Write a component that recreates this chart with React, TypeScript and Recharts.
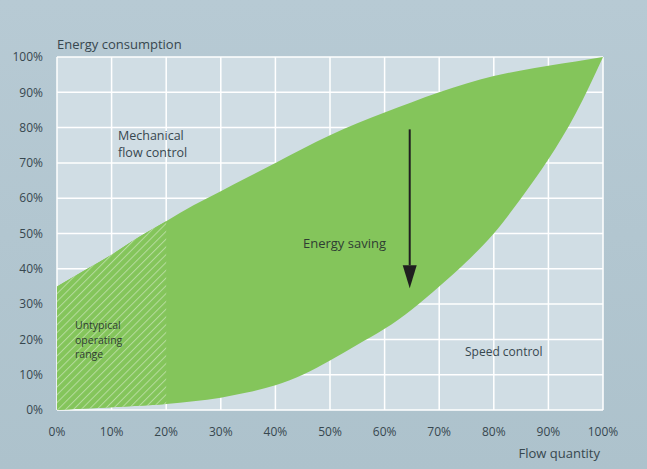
import React from "react";
import {
  ComposedChart,
  Area,
  XAxis,
  YAxis,
  CartesianGrid,
  ReferenceLine,
} from "recharts";

// flow quantity in %
const flow = [0, 5, 10, 15, 20, 25, 30, 35, 40, 45, 50, 55, 60, 65, 70, 75, 80, 85, 90, 95, 100];
// mechanical flow control (upper curve), energy in %
const mechanical = [35, 39.5, 44, 49, 53.5, 58, 62, 66, 70, 74, 77.8, 81.2, 84.3, 87.2, 90, 92.5, 94.6, 96.2, 97.5, 98.7, 100];
// speed control (lower curve), energy in %
const speed = [0, 0.4, 0.8, 1.2, 1.7, 2.5, 3.5, 5, 7, 10, 14, 18.5, 23, 28.5, 35, 42, 50, 60, 71, 84, 100];

const xTicks = [0, 10, 20, 30, 40, 50, 60, 70, 80, 90, 100];
const yTicks = [0, 10, 20, 30, 40, 50, 60, 70, 80, 90, 100];

const data = flow.map((f, i) => ({
  flow: f,
  saving: [speed[i], mechanical[i]],
  hatch: f <= 20 ? [speed[i], mechanical[i]] : null,
}));

const textColor = "#37474f";
const font = "'Open Sans', sans-serif";

const Arrow = (props: any) => {
  const { x1, y1, x2, y2 } = props;
  const head = 23;
  return (
    <g>
      <line x1={x1} y1={y1} x2={x2} y2={y2 - head} stroke="#1f1f1f" strokeWidth={2} />
      <polygon
        points={`${x2 - 7},${y2 - head} ${x2 + 7},${y2 - head} ${x2},${y2}`}
        fill="#1f1f1f"
      />
    </g>
  );
};

export default function App() {
  return (
    <div
      style={{
        position: "absolute",
        left: 0,
        top: 0,
        width: 647,
        height: 469,
        background: "linear-gradient(180deg, #b7cad4 0%, #adc2cc 100%)",
        fontFamily: font,
      }}
    >
      <ComposedChart
        width={647}
        height={469}
        data={data}
        margin={{ top: 57, right: 44, bottom: 29, left: 0 }}
        style={{ fontFamily: font }}
      >
        <defs>
          <pattern id="hatch" width="5.5" height="5.5" patternUnits="userSpaceOnUse" patternTransform="rotate(45)">
            <rect width="5.5" height="5.5" fill="#84c55b" />
            <line x1="0" y1="0" x2="0" y2="5.5" stroke="#b6dc9e" strokeWidth="2" />
          </pattern>
        </defs>
        <CartesianGrid fill="#d0dde4" stroke="#ffffff" strokeWidth={1.5} />
        <XAxis
          dataKey="flow"
          type="number"
          domain={[0, 100]}
          ticks={xTicks}
          tickFormatter={(v) => `${v}%`}
          axisLine={false}
          tickLine={false}
          tickSize={0}
          tickMargin={17}
          tick={{ fontSize: 12, fill: textColor }}
        />
        <YAxis
          type="number"
          domain={[0, 100]}
          ticks={yTicks}
          width={57}
          tickFormatter={(v) => `${v}%`}
          axisLine={false}
          tickLine={false}
          tickSize={0}
          tickMargin={14}
          tick={{ fontSize: 12, fill: textColor }}
        />
        <Area
          type="monotone"
          dataKey="saving"
          stroke="none"
          fill="#84c55b"
          fillOpacity={1}
          isAnimationActive={false}
        />
        <Area
          type="monotone"
          dataKey="hatch"
          stroke="none"
          fill="url(#hatch)"
          fillOpacity={1}
          connectNulls={false}
          isAnimationActive={false}
        />
        <ReferenceLine
          segment={[
            { x: 64.6, y: 79.5 },
            { x: 64.6, y: 34.5 },
          ]}
          shape={Arrow}
        />
      </ComposedChart>
      {/* annotations drawn on top of the areas */}
      <svg
        width={647}
        height={469}
        style={{ position: "absolute", left: 0, top: 0, pointerEvents: "none", fontFamily: font }}
      >
        <text x={57} y={49} fontSize={13} fill={textColor}>Energy consumption</text>
        <text x={600} y={458} fontSize={13} fill={textColor} textAnchor="end">Flow quantity</text>
        <text x={118} y={140} fontSize={12.5} fill={textColor}>Mechanical</text>
        <text x={118} y={157} fontSize={12.5} fill={textColor}>flow control</text>
        <text x={303} y={248} fontSize={13} fill="#2f3d33">Energy saving</text>
        <text x={465} y={356} fontSize={12} fill={textColor}>Speed control</text>
        <text x={75} y={329} fontSize={10.5} fill="#2f3d33">Untypical</text>
        <text x={75} y={343.5} fontSize={10.5} fill="#2f3d33">operating</text>
        <text x={75} y={358} fontSize={10.5} fill="#2f3d33">range</text>
      </svg>
    </div>
  );
}
